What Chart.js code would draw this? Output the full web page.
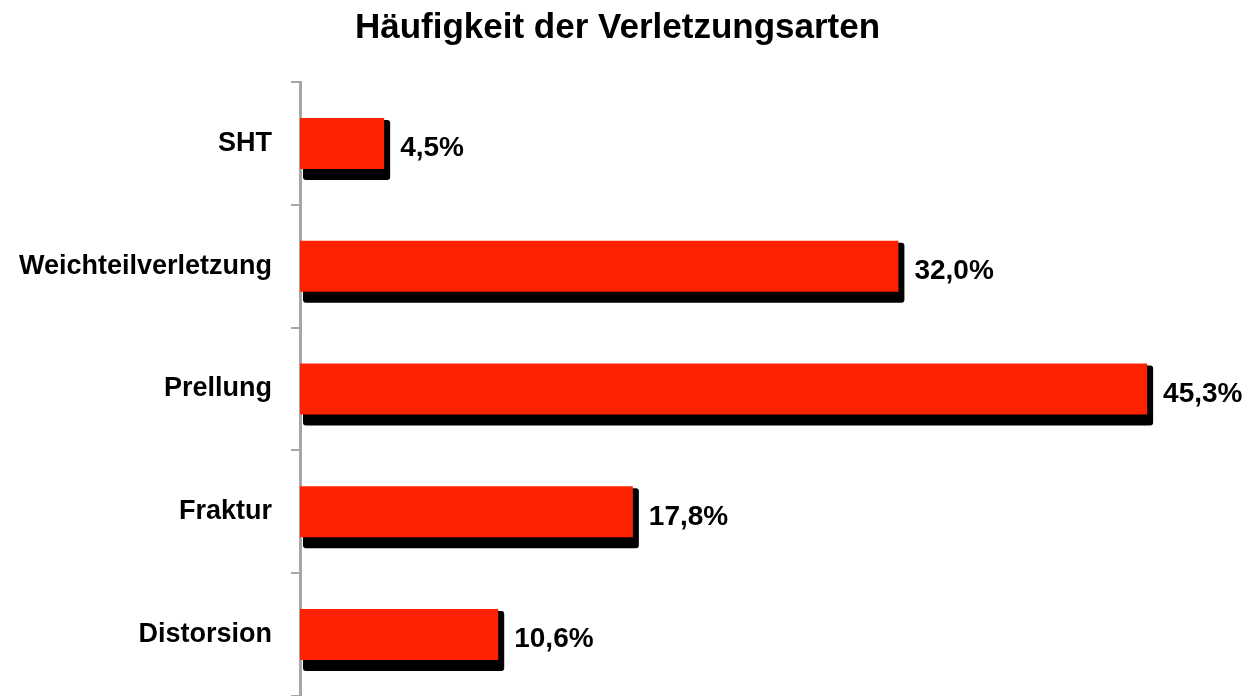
<!DOCTYPE html>
<html lang="de">
<head>
<meta charset="utf-8">
<title>Häufigkeit der Verletzungsarten</title>
<script src="https://cdn.jsdelivr.net/npm/chart.js@4.4.1/dist/chart.umd.min.js"></script>
<style>
  html, body { margin: 0; padding: 0; background: #fff; }
  #wrap { width: 1251px; height: 696px; position: relative; }
</style>
</head>
<body>
<div id="wrap"><canvas id="chart"></canvas></div>
<script>
// ── Data ────────────────────────────────────────────────────
const categories = ["SHT", "Weichteilverletzung", "Prellung", "Fraktur", "Distorsion"];
const shares = [4.5, 32.0, 45.3, 17.8, 10.6];
const chartTitle = "Häufigkeit der Verletzungsarten";

const FONT = "'Liberation Sans', Arial, sans-serif";

// black drop shadow behind each bar
const barShadow = {
  id: "barShadow",
  beforeDatasetsDraw(chart) {
    const { ctx } = chart;
    const meta = chart.getDatasetMeta(0);
    ctx.save();
    ctx.fillStyle = "#000";
    meta.data.forEach((bar) => {
      const h = bar.height;
      const left = bar.base + 3;
      const top = bar.y - h / 2 + 2;
      const w = bar.x + 6 - left;
      ctx.beginPath();
      ctx.roundRect(left, top, w, h + 9, 3);
      ctx.fill();
    });
    ctx.restore();
  },
};

// value labels right of the bars
const valueLabels = {
  id: "valueLabels",
  afterDatasetsDraw(chart) {
    const { ctx } = chart;
    const meta = chart.getDatasetMeta(0);
    ctx.save();
    ctx.fillStyle = "#000";
    ctx.font = `bold 28px ${FONT}`;
    ctx.textAlign = "left";
    ctx.textBaseline = "middle";
    meta.data.forEach((bar, i) => {
      const txt = shares[i].toFixed(1).replace(".", ",") + "%";
      ctx.fillText(txt, bar.x + 16, bar.y + 5);
    });
    ctx.restore();
  },
};

new Chart(document.getElementById("chart"), {
  type: "bar",
  data: {
    labels: categories,
    datasets: [{
      data: shares,
      backgroundColor: "#ff2200",
      borderWidth: 0,
      categoryPercentage: 1,
      barPercentage: 0.415,
    }],
  },
  options: {
    indexAxis: "y",
    responsive: true,
    maintainAspectRatio: false,
    animation: false,
    layout: { padding: { left: 0, right: 16, top: 0, bottom: 0 } },
    plugins: {
      legend: { display: false },
      tooltip: { enabled: false },
      title: {
        display: true,
        text: chartTitle,
        color: "#000",
        font: { family: FONT, size: 35, weight: "bold" },
        padding: { top: 7, bottom: 33 },
      },
    },
    scales: {
      x: { display: false, min: 0, max: 50 },
      y: {
        afterFit: (axis) => {
          axis.width = 300;
          axis.paddingTop = 0;
          axis.paddingBottom = 0;
        },
        border: { display: true, color: "#a6a6a6", width: 3 },
        grid: {
          display: true,
          offset: true,
          drawOnChartArea: false,
          drawTicks: true,
          tickLength: 9,
          color: "#a6a6a6",
          lineWidth: 2,
        },
        ticks: {
          color: "#000",
          padding: 19,
          font: { family: FONT, size: 27, weight: "bold" },
        },
      },
    },
  },
  plugins: [barShadow, valueLabels],
});
</script>
</body>
</html>
